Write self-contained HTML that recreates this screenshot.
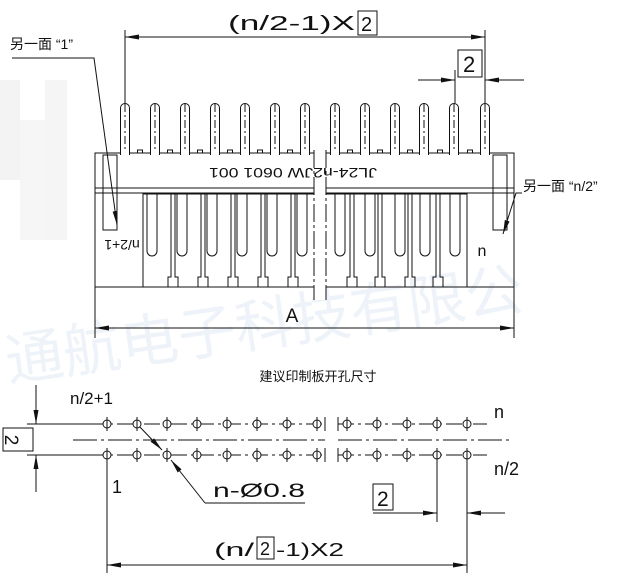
<!DOCTYPE html>
<html><head><meta charset="utf-8"><style>
html,body{margin:0;padding:0;background:#fff;}
svg{display:block;}
text{font-family:"Liberation Sans","Noto Sans CJK SC",sans-serif;fill:#111;}
</style></head><body>
<svg width="637" height="581" viewBox="0 0 637 581" xmlns="http://www.w3.org/2000/svg">
<defs>
<marker id="b" viewBox="0 0 14 5" refX="14" refY="2.5" markerWidth="14" markerHeight="5" orient="auto-start-reverse" markerUnits="userSpaceOnUse"><path d="M0,0L14,2.5L0,5z" fill="#111"/></marker>
</defs>
<!-- faint watermark -->
<g opacity="0.08">
<rect x="0" y="80" width="20" height="100" fill="#777"/>
<rect x="20" y="120" width="25" height="120" fill="#999"/>
<rect x="45" y="80" width="22" height="160" fill="#888"/>
</g>
<text x="0" y="340" font-size="58" style="fill:#eef2f9" transform="rotate(-8 300 300)">通航电子科技有限公</text>

<g stroke="#111" fill="none" stroke-width="1">
<line x1="125" y1="30" x2="125" y2="103"/>
<line x1="485" y1="30" x2="485" y2="103"/>
<line x1="125" y1="37" x2="485" y2="37" marker-start="url(#b)" marker-end="url(#b)"/>
<rect x="358" y="11" width="19" height="24"/>
<line x1="455" y1="70" x2="455" y2="103"/>
<line x1="418" y1="80" x2="455" y2="80" marker-end="url(#b)"/>
<line x1="524" y1="80" x2="485" y2="80" marker-end="url(#b)"/>
<rect x="458" y="50" width="24" height="27"/>
<polyline points="12,58 94,58 117,225" marker-end="url(#b)"/>
<rect x="95" y="153" width="419" height="134"/>
<line x1="95" y1="188" x2="514" y2="188"/>
<line x1="95" y1="193" x2="514" y2="193"/>
<rect x="103" y="155" width="14" height="75"/>
<line x1="103" y1="193" x2="117" y2="193"/>
<rect x="493" y="155" width="14" height="75"/>
<line x1="493" y1="193" x2="507" y2="193"/>
<rect x="143" y="194" width="324" height="93"/>
<line x1="95" y1="287" x2="95" y2="338"/>
<line x1="514" y1="287" x2="514" y2="338"/>
<line x1="95" y1="328" x2="514" y2="328" marker-start="url(#b)" marker-end="url(#b)"/>
<polyline points="522,193 516,193 503,234" marker-end="url(#b)"/>
<line x1="27" y1="424" x2="90" y2="424"/>
<line x1="27" y1="455" x2="90" y2="455"/>
<line x1="36" y1="385" x2="36" y2="424" marker-end="url(#b)"/>
<line x1="36" y1="492" x2="36" y2="455" marker-end="url(#b)"/>
<rect x="3" y="428" width="30" height="23"/>
<line x1="73" y1="440" x2="325" y2="440" stroke-dasharray="24,4,3,4"/>
<line x1="338" y1="440" x2="510" y2="440" stroke-dasharray="24,4,3,4"/>
<line x1="90" y1="424" x2="325" y2="424" stroke-dasharray="16,4,3,4"/>
<line x1="90" y1="455" x2="325" y2="455" stroke-dasharray="16,4,3,4"/>
<line x1="338" y1="424" x2="487" y2="424" stroke-dasharray="16,4,3,4"/>
<line x1="338" y1="455" x2="487" y2="455" stroke-dasharray="16,4,3,4"/>
<line x1="325" y1="417" x2="325" y2="431"/><line x1="338" y1="417" x2="338" y2="431"/>
<line x1="325" y1="448" x2="325" y2="462"/><line x1="338" y1="448" x2="338" y2="462"/>
<polyline points="205,503 305,503"/>
<line x1="137" y1="424" x2="162" y2="450" marker-end="url(#b)"/>
<line x1="205" y1="503" x2="171" y2="460" marker-end="url(#b)"/>
<rect x="373" y="484" width="20" height="26"/>
<line x1="437" y1="455" x2="437" y2="522"/>
<line x1="467" y1="455" x2="467" y2="522"/>
<line x1="373" y1="513" x2="437" y2="513" marker-end="url(#b)"/>
<line x1="505" y1="513" x2="467" y2="513" marker-end="url(#b)"/>
<line x1="107" y1="455" x2="107" y2="573"/>
<line x1="467" y1="522" x2="467" y2="573"/>
<line x1="107" y1="565" x2="467" y2="565" marker-start="url(#b)" marker-end="url(#b)"/>
<rect x="257" y="537" width="17" height="22"/>
</g>
<g stroke="#111" fill="#fff" stroke-width="1" id="pins"></g>
<g id="holes" stroke="#111" fill="none" stroke-width="1"></g>
<g id="comb" stroke="#111" fill="none" stroke-width="1"></g>
<rect x="314" y="140" width="12" height="160" fill="#fff"/>
<g stroke="#111" fill="none" stroke-width="1">
<line x1="314" y1="150" x2="314" y2="300" stroke-dasharray="18,3,3,3"/>
<line x1="326" y1="150" x2="326" y2="300" stroke-dasharray="18,3,3,3"/>
</g>
<text x="228" y="30" font-size="20" textLength="127" lengthAdjust="spacingAndGlyphs">(n/2-1)X</text>
<text x="361" y="31" font-size="20">2</text>
<text x="463" y="72" font-size="22">2</text>
<text x="10" y="49" font-size="14">另一面 “1”</text>
<text x="523" y="191" font-size="14">另一面 “n/2”</text>
<text transform="translate(293,168) rotate(180)" font-size="14" text-anchor="middle" font-family="Liberation Serif" textLength="168" lengthAdjust="spacingAndGlyphs">JL24-n2JW 0601 001</text>
<text transform="translate(122,240) rotate(180)" font-size="14" text-anchor="middle">n/2+1</text>
<text x="482" y="256" font-size="16" text-anchor="middle">n</text>
<text x="292" y="322" font-size="19" text-anchor="middle">A</text>
<text x="318" y="381" font-size="13" text-anchor="middle">建议印制板开孔尺寸</text>
<text x="70" y="404" font-size="17">n/2+1</text>
<text x="494" y="418" font-size="18">n</text>
<text x="494" y="475" font-size="18">n/2</text>
<text x="112" y="493" font-size="18">1</text>
<text transform="translate(11,440) rotate(90)" font-size="19" text-anchor="middle" dy="6">2</text>
<text x="213" y="497" font-size="19" textLength="92" lengthAdjust="spacingAndGlyphs">n-Ø0.8</text>
<text x="377" y="506" font-size="21">2</text>
<text x="214" y="556" font-size="18" textLength="40" lengthAdjust="spacingAndGlyphs">(n/</text>
<text x="260" y="555" font-size="18">2</text>
<text x="276" y="556" font-size="18" textLength="68" lengthAdjust="spacingAndGlyphs">-1)X2</text>
<script>
var ns="http://www.w3.org/2000/svg";
function el(p,t,a){var e=document.createElementNS(ns,t);for(var k in a)e.setAttribute(k,a[k]);p.appendChild(e);return e;}
var pins=document.getElementById('pins');
var px=[125,155,185,215,245,275,305,335,365,395,424,454,485];
px.forEach(function(x){
 el(pins,'path',{d:'M'+(x-4.5)+',155 L'+(x-4.5)+',108 A4.5,4.5 0 0 1 '+(x+4.5)+',108 L'+(x+4.5)+',155'});
 el(pins,'line',{x1:x,y1:104,x2:x,y2:150,'stroke-dasharray':'8,3,2,3'});
});
for(var i=0;i<12;i++){var x=140+30*i;el(pins,'rect',{x:x-2.5,y:150,width:5,height:3});}
var h=document.getElementById('holes');
[107,137,167,197,227,257,287,317,347,377,407,437,467].forEach(function(x){
 [424,455].forEach(function(y){
  el(h,'circle',{cx:x,cy:y,r:4,fill:'#fff'});
  el(h,'line',{x1:x,y1:y-7,x2:x,y2:y+7});
 });
});
var c=document.getElementById('comb');
[152,182,212,242,272,302,340,370,400,425,455].forEach(function(x){
 el(c,'path',{d:'M'+(x-5)+',194 L'+(x-5)+',251 A5,5 0 0 0 '+(x+5)+',251 L'+(x+5)+',194'});
});
[173,203,233,263,293,352,380,410,438].forEach(function(x){
 el(c,'path',{d:'M'+(x-2)+',194 L'+(x-2)+',277 L'+(x-5)+',277 L'+(x-5)+',287 M'+(x+2)+',194 L'+(x+2)+',277 L'+(x+5)+',277 L'+(x+5)+',287'});
});
</script>
</svg>
</body></html>
